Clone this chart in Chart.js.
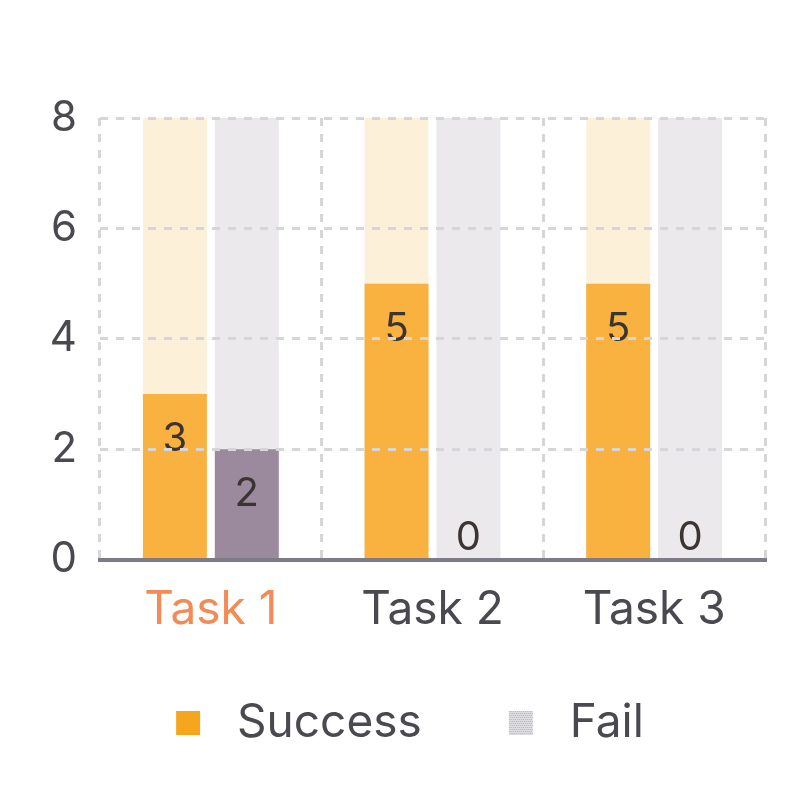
<!DOCTYPE html>
<html>
<head>
<meta charset="utf-8">
<script src="https://cdn.jsdelivr.net/npm/chart.js@4.4.1/dist/chart.umd.min.js"></script>
<style>
  html, body { margin: 0; padding: 0; background: #ffffff; }
  #wrap { width: 801px; height: 800px; }
</style>
</head>
<body>
<div id="wrap"><canvas id="chart" width="801" height="800"></canvas></div>
<script>
// Task outcome chart: success / fail counts over a full-height track
const categories = ['Task 1', 'Task 2', 'Task 3'];
const successValues = [3, 5, 5];
const failValues = [2, 0, 0];
const trackValues = [8, 8, 8];
const seriesNames = ['Success', 'Fail'];
const yMax = 8;
const yStep = 2;

const FONT = 'Inter, "Noto Sans", sans-serif';
const TEXT = '#4a494f';

// legend swatch: square sits at the right side of a wider transparent box
function makeSwatch(fill, dotted) {
  const c = document.createElement('canvas');
  c.width = 85; c.height = 24;
  const g = c.getContext('2d');
  const x0 = 47;
  g.fillStyle = fill;
  g.fillRect(x0, 0, 24, 24);
  if (dotted) {
    g.fillStyle = '#b9b7be';
    for (let y = 0; y < 24; y += 2) {
      for (let x = (y % 4) / 2; x < 24; x += 2) g.fillRect(x0 + x, y, 1, 1);
    }
  }
  return c;
}
const swatches = [makeSwatch('#f6a61d', false), makeSwatch('#dddce1', true)];

// value labels drawn on the bars
const valueLabels = {
  id: 'valueLabels',
  afterDatasetsDraw(chart) {
    const ctx = chart.ctx;
    ctx.save();
    ctx.font = '40px ' + FONT;
    ctx.fillStyle = '#3b3431';
    ctx.textAlign = 'center';
    ctx.textBaseline = 'middle';
    [0, 1].forEach(di => {
      const meta = chart.getDatasetMeta(di);
      meta.data.forEach((bar, i) => {
        const v = chart.data.datasets[di].data[i];
        const y = v > 0 ? bar.y + 45 : bar.y - 22;
        ctx.fillText(String(v), bar.x, y);
      });
    });
    ctx.restore();
  }
};

const barOpts = { barPercentage: 0.889, categoryPercentage: 0.649 };

new Chart(document.getElementById('chart'), {
  type: 'bar',
  data: {
    labels: categories,
    datasets: [
      Object.assign({ label: seriesNames[0], data: successValues, backgroundColor: '#f9b13f', stack: 's', order: 1 }, barOpts),
      Object.assign({ label: seriesNames[1], data: failValues, backgroundColor: '#9b8a9e', stack: 'f', order: 1 }, barOpts),
      Object.assign({ label: 'track-s', data: trackValues, backgroundColor: '#fdf0d9', stack: 's', order: 2 }, barOpts),
      Object.assign({ label: 'track-f', data: trackValues, backgroundColor: '#ebe9ec', stack: 'f', order: 2 }, barOpts)
    ]
  },
  options: {
    responsive: false,
    animation: false,
    layout: { padding: { top: 118, left: 8, right: 36, bottom: 44 } },
    scales: {
      x: {
        stacked: true,
        offset: true,
        grid: { display: true, offset: true, color: '#d6d5da', lineWidth: 3, drawTicks: false, z: 1 },
        border: { display: true, color: '#7e7b86', width: 4, dash: [8, 8], z: 2 },
        ticks: {
          padding: 3,
          font: { family: FONT, size: 46, lineHeight: 2.05 },
          color: c => c.index === 0 ? '#f28b55' : TEXT
        }
      },
      y: {
        stacked: false,
        min: 0,
        max: yMax,
        afterFit: s => { s.width = 92; },
        ticks: { stepSize: yStep, padding: 23, font: { family: FONT, size: 42 }, color: TEXT },
        grid: { color: '#d6d5da', lineWidth: 3, drawTicks: false, z: 1 },
        border: { display: false, dash: [8, 8] }
      }
    },
    plugins: {
      tooltip: { enabled: false },
      legend: {
        position: 'bottom',
        labels: {
          usePointStyle: true,
          pointStyleWidth: 85,
          boxHeight: 24,
          padding: 40,
          color: TEXT,
          font: { family: FONT, size: 46 },
          generateLabels: () => seriesNames.map((name, i) => ({
            text: name,
            datasetIndex: i,
            pointStyle: swatches[i],
            fillStyle: 'transparent',
            strokeStyle: 'transparent',
            lineWidth: 0,
            fontColor: TEXT,
            hidden: false
          }))
        }
      }
    }
  },
  plugins: [valueLabels]
});
</script>
</body>
</html>
